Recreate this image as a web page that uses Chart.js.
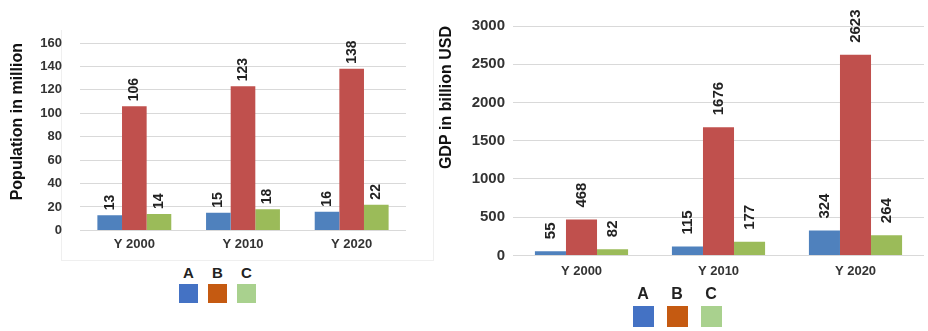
<!DOCTYPE html>
<html>
<head>
<meta charset="utf-8">
<script src="https://cdn.jsdelivr.net/npm/chart.js@4"></script>
<style>
  body { margin: 0; background: #fff; font-family: "Liberation Sans", Arial, sans-serif; }
  #wrap { position: relative; width: 928px; height: 331px; overflow: hidden; }
  .panel { position: absolute; }
  .frame { position: absolute; left: 61px; top: 30px; width: 371px; height: 230px;
    border: 1px solid #efefef; border-top: none; }
  .legend { position: absolute; display: flex; }
  .legend .item { display: flex; flex-direction: column; align-items: center; font-weight: bold; color: #222; }
  .legend .box { margin-top: 3px; }
</style>
</head>
<body>
<div id="wrap">
  <div class="frame"></div>
  <div class="panel" style="left:0;top:0;width:440px;height:262px;"><canvas id="chart-pop"></canvas></div>
  <div class="panel" style="left:435px;top:0;width:493px;height:290px;"><canvas id="chart-gdp"></canvas></div>
  <div class="legend" id="legend-pop" style="left:174px;top:264px;"></div>
  <div class="legend" id="legend-gdp" style="left:626px;top:285px;"></div>
</div>
<script>
// ============ Data ============
const categories = ['Y 2000', 'Y 2010', 'Y 2020'];
const seriesNames = ['A', 'B', 'C'];

const popA = [13, 15, 16];
const popB = [106, 123, 138];
const popC = [14, 18, 22];

const gdpA = [55, 115, 324];
const gdpB = [468, 1676, 2623];
const gdpC = [82, 177, 264];

const barColors = ['#4f81bd', '#c0504d', '#9bbb59'];
const legendColors = ['#4472c4', '#c55a11', '#a9d18e'];

// ============ Value labels (rotated, above bars) ============
const valueLabels = {
  id: 'valueLabels',
  afterDatasetsDraw(chart, args, opts) {
    const ctx = chart.ctx;
    ctx.save();
    ctx.fillStyle = '#222';
    ctx.font = `bold ${opts.size}px "Liberation Sans", Arial, sans-serif`;
    ctx.textAlign = 'left';
    ctx.textBaseline = 'middle';
    chart.data.datasets.forEach((ds, i) => {
      chart.getDatasetMeta(i).data.forEach((bar, j) => {
        ctx.save();
        ctx.translate(bar.x, bar.y - opts.gap);
        ctx.rotate(-Math.PI / 2);
        ctx.fillText(String(ds.data[j]), 0, 0);
        ctx.restore();
      });
    });
    ctx.restore();
  }
};

function makeDatasets(a, b, c) {
  return [a, b, c].map((vals, i) => ({
    label: seriesNames[i],
    data: vals,
    backgroundColor: barColors[i],
    categoryPercentage: 0.68,
    barPercentage: 1.0,
  }));
}

function makeChart(id, datasets, cfg) {
  const ctx = document.getElementById(id).getContext('2d');
  return new Chart(ctx, {
    type: 'bar',
    data: { labels: categories, datasets },
    options: {
      responsive: true,
      maintainAspectRatio: false,
      animation: false,
      layout: { padding: cfg.padding },
      plugins: {
        legend: { display: false },
        tooltip: { enabled: false },
        valueLabels: { size: cfg.labelSize, gap: cfg.labelGap },
      },
      scales: {
        x: {
          grid: { display: false, drawTicks: false },
          border: { display: false },
          ticks: {
            color: '#333',
            font: { family: '"Liberation Sans", Arial, sans-serif', size: 13, weight: 'bold' },
            padding: cfg.xPad,
          },
        },
        y: {
          min: 0,
          max: cfg.max,
          grid: { color: '#d9d9d9', drawTicks: false },
          border: { display: false },
          ticks: {
            stepSize: cfg.step,
            color: '#333',
            padding: cfg.yPad,
            font: { family: '"Liberation Sans", Arial, sans-serif', size: cfg.tickSize, weight: 'bold' },
            callback: v => String(v),
          },
          title: {
            display: cfg.title !== '',
            text: cfg.title,
            align: cfg.titleAlign,
            color: '#111',
            padding: 0,
            font: { family: '"Liberation Sans", Arial, sans-serif', size: 16, weight: 'bold' },
          },
          afterFit: s => { s.width = cfg.yWidth; },
        },
      },
    },
    plugins: [valueLabels],
  });
}

function buildLegend(id, size, font, gap) {
  const el = document.getElementById(id);
  el.innerHTML = seriesNames.map((n, i) => `
    <div class="item" style="width:${size + gap}px;font-size:${font}px;">
      <span>${n}</span>
      <span class="box" style="width:${size}px;height:${size}px;background:${legendColors[i]};"></span>
    </div>`).join('');
}

makeChart('chart-pop', makeDatasets(popA, popB, popC), {
  padding: { left: 8, right: 34, top: 43, bottom: 4 },
  max: 160, step: 20, tickSize: 13, labelSize: 14, labelGap: 5,
  xPad: 6, yPad: 18, yWidth: 72,
  title: 'Population in million', titleAlign: 'end',
});

makeChart('chart-gdp', makeDatasets(gdpA, gdpB, gdpC), {
  padding: { left: 2, right: 4, top: 26, bottom: 3 },
  max: 3000, step: 500, tickSize: 15, labelSize: 15, labelGap: 12,
  xPad: 8, yPad: 8, yWidth: 76,
  title: 'GDP in billion USD', titleAlign: 'end',
});

buildLegend('legend-pop', 19, 15, 10);
buildLegend('legend-gdp', 21, 16, 13);
</script>
</body>
</html>
